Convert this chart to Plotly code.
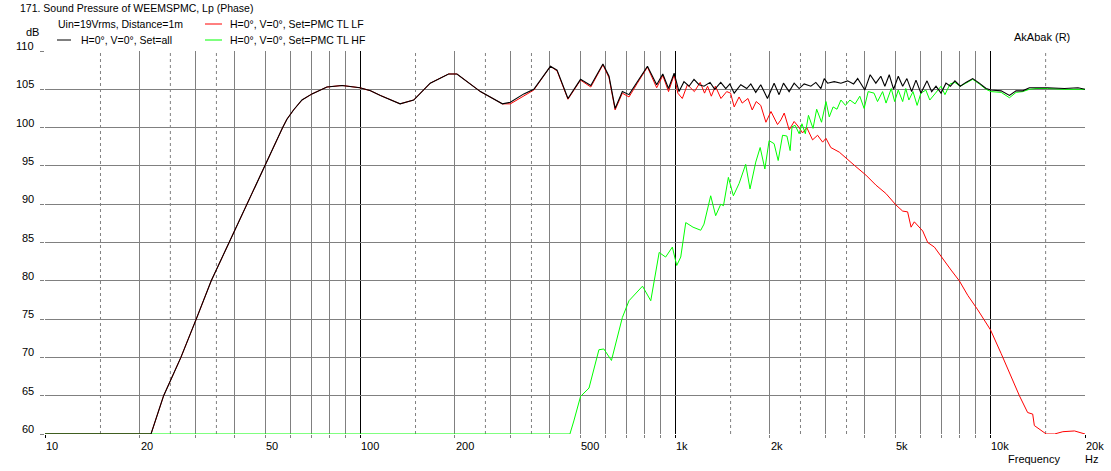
import math
import plotly.graph_objects as go

# ---------------- data ----------------
freq_all = [10, 21.7, 23.8, 27.0, 30.2, 33.7, 38.4, 43.7, 50.0, 56.8, 58.6, 61.5, 65.4, 70.4, 78.5, 87.7, 100,
            108, 116, 134, 148, 167, 191, 203, 241, 283, 300, 331, 356, 402, 422, 457, 501, 540, 590,
            617, 645, 680, 714, 759, 817, 874, 914, 953, 993, 1029, 1067, 1107, 1148, 1191, 1235, 1291,
            1336, 1396, 1448, 1492, 1540, 1616, 1688, 1739, 1803, 1870, 1964, 2062, 2138, 2208, 2301,
            2387, 2476, 2568, 2697, 2797, 2902, 2974, 3047, 3199, 3360, 3527, 3686, 3797, 3892, 4001,
            4160, 4337, 4498, 4632, 4783, 4938, 5109, 5276, 5442, 5634, 5815, 6028, 6304, 6522, 6731,
            6983, 7239, 7476, 7729, 8035, 8375, 8802, 9238, 9704, 10069, 10838, 11515, 12085, 12690,
            13316, 13984, 15230, 17207, 19000, 20000]
spl_all = [60, 60, 65, 70, 75, 80, 85, 90, 95, 100, 101.1, 102.3, 103.6, 104.4, 105.3, 105.5, 105.2,
           104.8, 104.2, 103.1, 103.6, 105.8, 107.0, 107.0, 104.7, 103.1, 103.3, 104.4, 105.0, 108.0,
           107.5, 103.8, 106.3, 105.5, 108.3, 106.7, 102.5, 104.7, 104.3, 106.0, 108.0, 105.6, 107.0,
           105.1, 107.1, 104.7, 106.0, 105.4, 106.3, 105.6, 105.4, 105.9, 105.0, 105.9, 105.1, 105.7,
           104.5, 105.6, 105.1, 105.7, 104.6, 105.6, 103.8, 105.8, 104.3, 105.8, 104.7, 105.8, 105.1,
           105.7, 105.4, 105.9, 105.1, 106.4, 105.8, 106.0, 105.8, 106.1, 105.7, 106.4, 105.6, 104.9,
           106.9, 105.8, 106.7, 105.4, 106.9, 105.0, 106.7, 105.4, 106.4, 104.7, 106.2, 104.5, 106.1,
           104.7, 105.4, 104.5, 105.8, 105.4, 106.1, 105.4, 105.9, 106.4, 105.8, 105.1, 104.9, 104.8,
           104.2, 104.8, 104.8, 105.2, 105.2, 105.2, 105.1, 105.2, 105.0]

freq_lf_hi = [300, 331, 356, 402, 422, 457, 501, 540, 590, 617, 645, 680, 714, 759, 817, 874, 914,
              953, 993, 1020, 1054, 1094, 1151, 1201, 1240, 1268, 1303, 1342, 1398, 1458, 1500, 1540,
              1596, 1633, 1703, 1757, 1809, 1870, 1942, 2015, 2114, 2166, 2220, 2302, 2387, 2476,
              2538, 2618, 2731, 2833, 2939, 3012, 3120, 3319, 3527, 3749, 4033, 4337, 4667, 5023,
              5276, 5470, 5610, 5745, 6109, 6336, 6653, 7162, 7516, 7981, 8491, 9137, 10023, 10838,
              11645, 12381, 13152, 13646, 13812, 14514, 15062, 16002, 17012, 18523, 19454, 20000]
spl_lf_hi = [103.1, 104.2, 104.9, 108.0, 107.4, 103.7, 106.2, 105.3, 108.2, 106.5, 102.3, 104.5,
             104.0, 105.8, 107.9, 105.2, 106.8, 104.7, 106.9, 104.5, 103.8, 105.6, 104.7, 105.9,
             104.5, 105.4, 104.1, 105.4, 103.8, 104.7, 104.5, 102.7, 104.0, 103.2, 103.8, 102.3,
             103.4, 102.9, 100.7, 102.1, 100.4, 101.0, 101.9, 99.7, 100.8, 100.0, 99.3, 100.0, 98.4,
             99.0, 98.1, 98.6, 97.4, 96.8, 95.8, 94.9, 93.8, 92.5, 91.4, 89.9, 89.1, 89.0, 87.0, 87.7,
             86.5, 85.0, 84.4, 82.5, 81.4, 80.0, 78.1, 76.2, 73.6, 70.5, 67.4, 65.0, 62.8, 62.6, 61.1,
             60.4, 60.0, 60.0, 60.3, 60.4, 60.2, 60.0]

freq_hf = [10, 463.6, 477, 501, 533, 573, 594, 628, 680, 714, 788, 837, 890, 933, 980, 1012, 1042,
           1081, 1140, 1206, 1235, 1297, 1345, 1396, 1424, 1476, 1531, 1596, 1675, 1729, 1803, 1862,
           1927, 1988, 2062, 2124, 2193, 2264, 2318, 2350, 2404, 2476, 2527, 2590, 2650, 2740, 2814,
           2916, 3012, 3086, 3173, 3265, 3360, 3474, 3588, 3727, 3857, 3981, 4100, 4280, 4390, 4556,
           4673, 4854, 4976, 5109, 5276, 5396, 5521, 5690, 5864, 6028, 6250, 6433, 6707, 6983, 7185,
           7460, 7729, 8035, 8375, 8802, 9238, 9704, 10069, 10838, 11515, 12085, 12690, 13316,
           13984, 15230, 17207, 20000]
spl_hf = [60, 60, 61.7, 64.9, 66.0, 71.0, 71.1, 69.6, 75.2, 77.4, 79.3, 77.4, 83.7, 83.1, 84.4, 82.0,
          83.1, 87.6, 87.0, 86.6, 87.4, 91.1, 88.5, 90.0, 89.8, 93.5, 91.1, 92.7, 95.2, 92.0, 95.5,
          97.4, 94.6, 98.3, 97.9, 95.7, 99.0, 98.9, 97.0, 100.1, 100.3, 99.2, 100.5, 99.2, 101.6,
          99.9, 102.4, 100.7, 103.4, 101.4, 102.7, 102.4, 103.6, 102.9, 103.6, 103.1, 104.1, 102.5,
          104.7, 104.5, 103.4, 104.7, 103.2, 105.1, 103.4, 104.9, 103.4, 105.1, 103.6, 104.7, 102.9,
          104.5, 104.9, 103.6, 104.5, 105.4, 104.3, 105.7, 105.9, 105.4, 105.8, 106.3, 105.7, 105.0,
          104.7, 104.6, 103.9, 104.6, 104.7, 105.0, 105.1, 105.1, 105.0, 105.0]

# red (LF) shares the all-driver curve below 290 Hz
freq_lf = [f for f in freq_all if f < 290] + freq_lf_hi
spl_lf = [s for f, s in zip(freq_all, spl_all) if f < 290] + spl_lf_hi

x_tick_vals = [10, 20, 50, 100, 200, 500, 1000, 2000, 5000, 10000, 20000]
x_tick_text = ["10", "20", "50", "100", "200", "500", "1k", "2k", "5k", "10k", "20k"]
y_tick_vals = [60, 65, 70, 75, 80, 85, 90, 95, 100, 105, 110]
decade_lines = [10, 100, 1000, 10000, 20000]
minor_lines = [m * d for d in (10, 100, 1000) for m in range(2, 10)]
dashed_lines = [m * d for d in (10, 100, 1000, 10000) for m in (1.5, 2.5, 3.5) if m * d < 20000]

# ---------------- layout helpers ----------------
FW, FH = 1111, 471
# plot area in page pixels
PL, PT, PR, PB = 45, 51, 1085, 434
PW, PH = PR - PL, PB - PT
ML, MT = PL, PT
MR, MB = FW - PR, FH - PB


def px(x):
    return (x - PL) / PW


def py(y):
    return (PB - y) / PH


FONT = "Liberation Sans"
GRAY = "#808080"
TS = 10.5   # header / legend text size
KS = 11     # tick label size

fig = go.Figure()
fig.add_trace(go.Scatter(x=freq_lf, y=spl_lf, mode="lines", line=dict(color="#ff0000", width=1),
                         name="H=0°, V=0°, Set=PMC TL LF"))
fig.add_trace(go.Scatter(x=freq_hf, y=spl_hf, mode="lines", line=dict(color="#00ff00", width=1),
                         name="H=0°, V=0°, Set=PMC TL HF"))
fig.add_trace(go.Scatter(x=freq_all, y=spl_all, mode="lines", line=dict(color="#000000", width=1.1),
                         name="H=0°, V=0°, Set=all"))

shapes = []
for v in dashed_lines:
    shapes.append(dict(type="line", xref="x", yref="paper", x0=v, x1=v, y0=0, y1=1, layer="below",
                       line=dict(color=GRAY, width=1, dash="3px,3px")))
# legend samples
shapes.append(dict(type="line", xref="paper", yref="paper", x0=px(57), x1=px(71), y0=py(40), y1=py(40),
                   line=dict(color="#000000", width=1)))
shapes.append(dict(type="line", xref="paper", yref="paper", x0=px(205), x1=px(222), y0=py(24), y1=py(24),
                   line=dict(color="#ff0000", width=1)))
shapes.append(dict(type="line", xref="paper", yref="paper", x0=px(205), x1=px(222), y0=py(40), y1=py(40),
                   line=dict(color="#00ff00", width=1)))

ann = []
for v, t in zip(x_tick_vals, x_tick_text):
    ann.append(dict(x=math.log10(v), xref="x", y=0, yref="paper", text=t, showarrow=False,
                    xanchor="left", yanchor="middle", yshift=-12, xshift=-1,
                    font=dict(family=FONT, size=KS, color="black")))
for v in y_tick_vals:
    ann.append(dict(x=0, xref="paper", y=v, yref="y", text=str(v), showarrow=False,
                    xanchor="right", yanchor="middle", xshift=-9, yshift=5,
                    font=dict(family=FONT, size=KS, color="black")))


def text(x, y, s, anchor="left", size=TS, vanchor="middle"):
    ann.append(dict(x=px(x), y=py(y), xref="paper", yref="paper", text=s, showarrow=False,
                    xanchor=anchor, yanchor=vanchor, font=dict(family=FONT, size=size, color="black")))


text(18, 0, "171. Sound Pressure of WEEMSPMC, Lp (Phase)", vanchor="top")
text(56, 24, "Uin=19Vrms, Distance=1m")
text(79, 40, "H=0°, V=0°, Set=all")
text(228, 24, "H=0°, V=0°, Set=PMC TL LF")
text(228, 40, "H=0°, V=0°, Set=PMC TL HF")
text(24, 32, "dB", size=KS)
text(1012, 37, "AkAbak (R)", size=KS)
text(1006, 459, "Frequency", size=KS)
text(1083, 459, "Hz", size=KS)

fig.update_layout(
    width=FW, height=FH, autosize=False,
    margin=dict(l=ML, r=MR, t=MT, b=MB, pad=0),
    paper_bgcolor="white", plot_bgcolor="white",
    showlegend=False,
    shapes=shapes, annotations=ann,
    font=dict(family=FONT, size=KS, color="black"),
    xaxis=dict(type="log", range=[1, math.log10(20000)], tickvals=decade_lines,
               showticklabels=False, showgrid=True, gridcolor="#000000", gridwidth=1,
               ticks="outside", ticklen=3, tickcolor="#000000", zeroline=False, showline=False,
               minor=dict(tickvals=minor_lines, showgrid=True, gridcolor=GRAY, gridwidth=1,
                          ticks="outside", ticklen=3, tickcolor=GRAY)),
    yaxis=dict(range=[60, 110], tickvals=y_tick_vals, showticklabels=False,
               showgrid=True, gridcolor=GRAY, gridwidth=1,
               ticks="outside", ticklen=4, tickcolor=GRAY, zeroline=False, showline=False),
)

# let the figure fill the browser window exactly (no default page margin)
page_css = ("document.body.style.margin='0px';document.body.style.padding='0px';"
            "document.body.style.overflow='hidden';")
fig.write_html("out.html", post_script=page_css, config={"displayModeBar": False})
